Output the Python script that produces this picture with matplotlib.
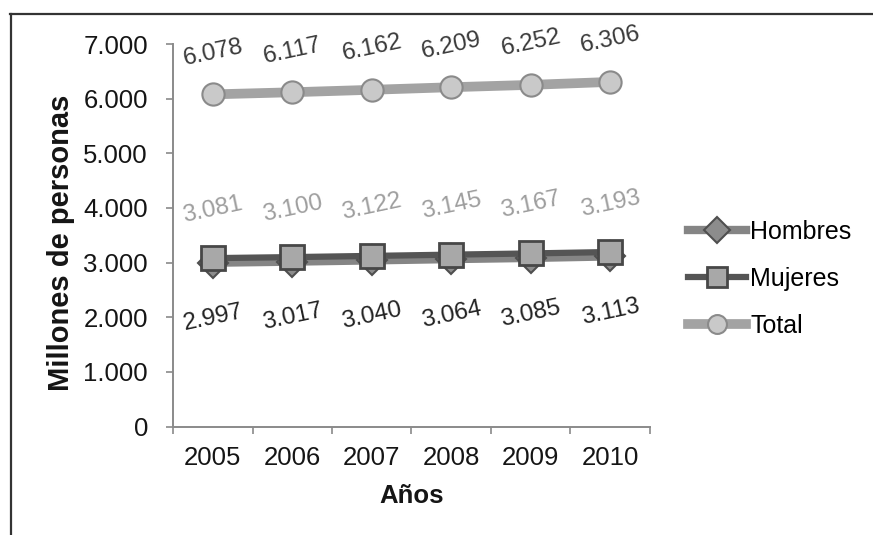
import matplotlib
matplotlib.use("Agg")
import matplotlib.pyplot as plt
from matplotlib.lines import Line2D

plt.rcParams['font.family'] = ['Liberation Sans', 'DejaVu Sans']

# Population by year (thousands, displayed with '.' as thousands separator)
years = ['2005', '2006', '2007', '2008', '2009', '2010']
hombres = [2997, 3017, 3040, 3064, 3085, 3113]
mujeres = [3081, 3100, 3122, 3145, 3167, 3193]
total = [6078, 6117, 6162, 6209, 6252, 6306]
y_ticks = [0, 1000, 2000, 3000, 4000, 5000, 6000, 7000]


def fmt(v):
    return f"{v:,}".replace(',', '.')


W, H = 873, 535
fig = plt.figure(figsize=(W / 100, H / 100), dpi=100)
fig.patch.set_facecolor('white')

ax = fig.add_axes([173 / W, 1 - 426.5 / H, 477 / W, 382.5 / H])
x = list(range(len(years)))

# Series lines with markers
ax.plot(x, total, color='#a3a3a3', lw=7, marker='o', ms=16,
        mfc='#c9c9c9', mec='#8a8a8a', mew=1.5, label='Total', zorder=3)
ax.plot(x, hombres, color='#858585', lw=6, marker='D', ms=15,
        mfc='#8c8c8c', mec='#4f4f4f', mew=1.5, label='Hombres', zorder=4)
ax.plot(x, mujeres, color='#555555', lw=4.5, marker='s', ms=17,
        mfc='#a8a8a8', mec='#474747', mew=2, label='Mujeres', zorder=5)

# Value labels
for i in x:
    ax.annotate(fmt(total[i]), (i, total[i]), xytext=(0, 30),
                textcoords='offset points', ha='center', va='center',
                rotation=12, fontsize=17.5, color='#3a3a3a', zorder=6)
    ax.annotate(fmt(mujeres[i]), (i, mujeres[i]), xytext=(0, 35),
                textcoords='offset points', ha='center', va='center',
                rotation=12, fontsize=17.5, color='#9e9e9e', zorder=6)
    ax.annotate(fmt(hombres[i]), (i, hombres[i]), xytext=(0, -40),
                textcoords='offset points', ha='center', va='center',
                rotation=12, fontsize=17.5, color='#222222', zorder=6)

ax.set_xlim(-0.5, len(years) - 0.5)
ax.set_ylim(0, 7000)

ax.set_yticks(y_ticks)
ax.set_yticklabels([fmt(v) for v in y_ticks])
ax.set_xticks(x)
ax.set_xticklabels(years)
ax.set_xticks([i - 0.5 for i in range(len(years) + 1)], minor=True)

ax.tick_params(axis='y', which='major', direction='out', length=5, width=1.2,
               color='#8a8a8a', labelsize=18.5, labelcolor='#151515', pad=13)
ax.tick_params(axis='x', which='major', length=0, labelsize=18.5,
               labelcolor='#151515', pad=14)
ax.tick_params(axis='x', which='minor', direction='out', length=5, width=1.2,
               color='#8a8a8a')

for side in ('top', 'right'):
    ax.spines[side].set_visible(False)
for side in ('left', 'bottom'):
    ax.spines[side].set_color('#8a8a8a')
    ax.spines[side].set_linewidth(1.4)

ax.set_ylabel('Millones de personas', fontsize=21, fontweight='bold',
              color='#151515')
ax.yaxis.label.set_va('center')
ax.yaxis.set_label_coords(-0.235, 0.48)
ax.set_xlabel('Años', fontsize=18.5, fontweight='bold', color='#151515')
ax.xaxis.set_label_coords(0.5, -0.15)

handles, labels = ax.get_legend_handles_labels()
order = [labels.index(n) for n in ('Hombres', 'Mujeres', 'Total')]
fig.legend([handles[k] for k in order], [labels[k] for k in order],
           loc='center left', bbox_to_anchor=(688 / W, 1 - 279 / H),
           frameon=False, fontsize=18, handlelength=2.3, markerscale=0.85,
           handletextpad=0.2, labelspacing=0.92, borderpad=0,
           borderaxespad=0)

# Outer border (top and left edges)
fig.add_artist(Line2D([10 / W, 1.0], [1 - 14 / H, 1 - 14 / H],
                      transform=fig.transFigure, color='#333333', lw=1.6))
fig.add_artist(Line2D([11 / W, 11 / W], [0.0, 1 - 14 / H],
                      transform=fig.transFigure, color='#333333', lw=1.6))

fig.savefig('out.png', dpi=100, facecolor='white')
